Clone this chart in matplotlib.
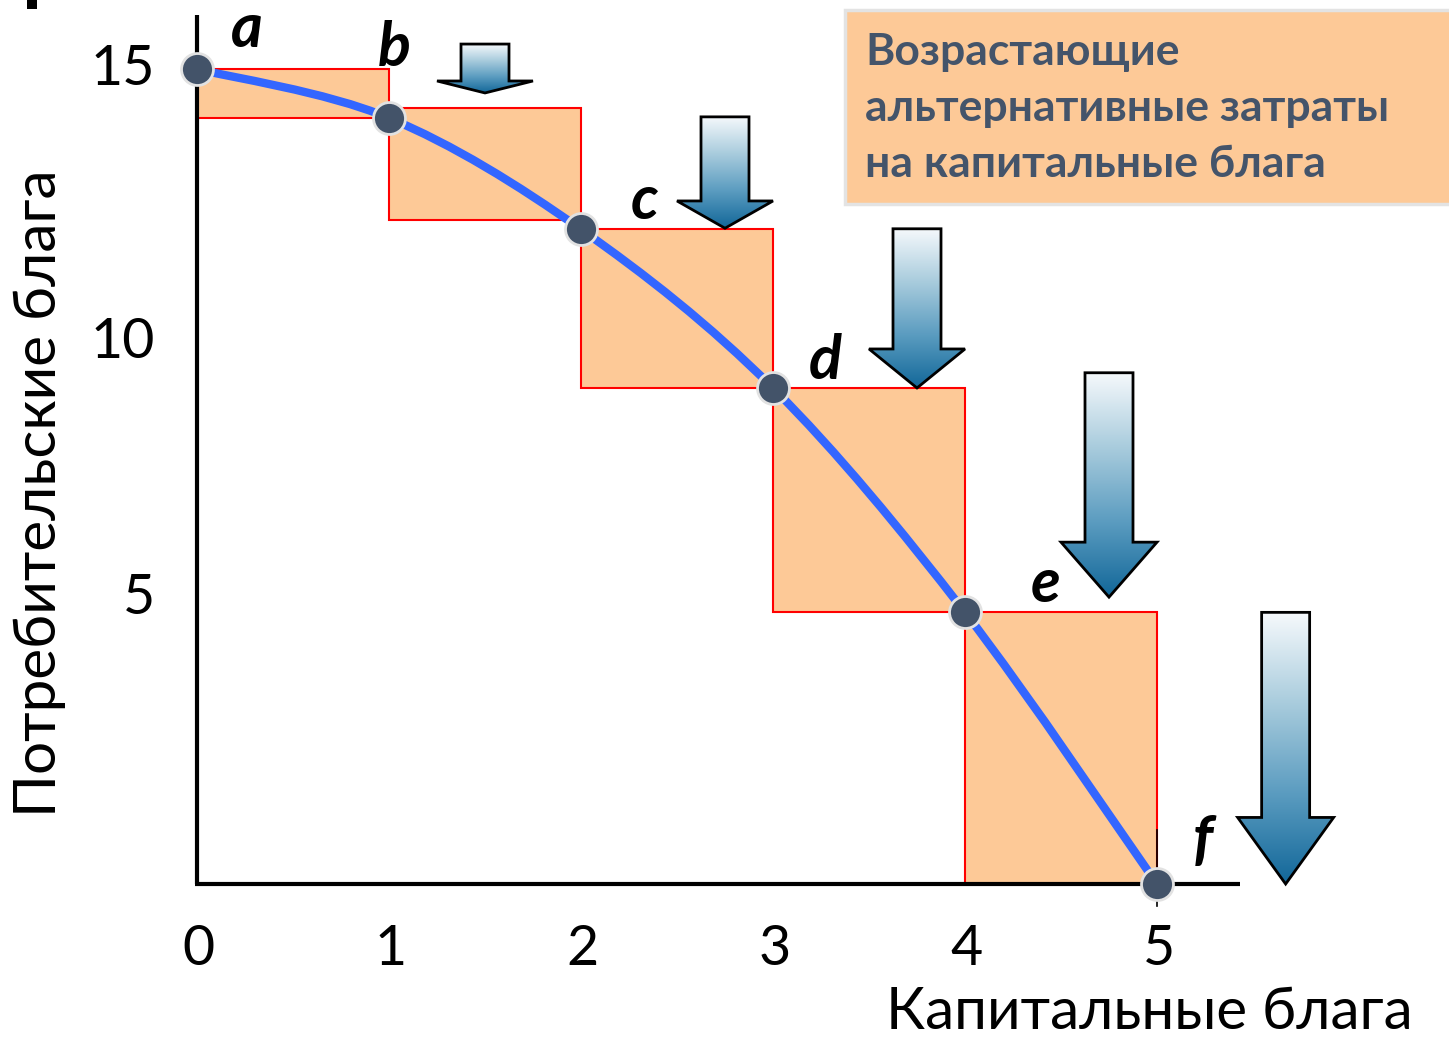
import matplotlib.pyplot as plt
import numpy as np
from matplotlib.patches import Rectangle, Polygon
from matplotlib.path import Path
from matplotlib.patches import PathPatch
from matplotlib.colors import LinearSegmentedColormap

plt.rcParams['font.family'] = ['Lato', 'DejaVu Sans']

# production possibilities: capital goods vs consumer goods
capital = [0, 1, 2, 3, 4, 5]
consumer = [15, 14.1, 12.05, 9.13, 5.0, 0]
point_names = ['a', 'b', 'c', 'd', 'e', 'f']

# opportunity cost boxes
box_left = [0, 1, 2, 3, 4]
box_top = [15, 14.28, 12.06, 9.13, 5.0]
box_bottom = [14.1, 12.22, 9.13, 5.0, 0]

# arrows showing growing cost
arrow_x = [1.5, 2.75, 3.75, 4.75, 5.67]
arrow_top = [15.46, 14.12, 12.06, 9.41, 5.0]
arrow_tip = [14.56, 12.07, 9.13, 5.28, 0.0]

x_ticks = [0, 1, 2, 3, 4, 5]
y_ticks = [5, 10, 15]
y_tick_pos = [5.26, 9.96, 15.0]

fig = plt.figure(figsize=(14.49, 10.38), dpi=100)
ax = fig.add_axes([0, 0, 1, 1])
ax.set_xlim(-197 / 192, (1449 - 197) / 192)
ax.set_ylim(-154 / 54.33, 884 / 54.33)
ax.axis('off')

fill = '#FDC997'
for l, t, b in zip(box_left, box_top, box_bottom):
    ax.add_patch(Rectangle((l, b), 1, t - b, facecolor=fill, edgecolor='#FF0000', lw=1.5, zorder=2))

# axes lines
ax.plot([0, 0], [0, 16.0], color='black', lw=3, zorder=3, solid_capstyle='butt')
ax.plot([-0.01, 5.43], [0, 0], color='black', lw=3, zorder=3, solid_capstyle='butt')
ax.plot([5, 5], [-0.4, 1.0], color='black', lw=1.2, zorder=3)

# smooth curve through the points (catmull-rom -> bezier)
pts = np.column_stack([capital, consumer]).astype(float)
verts = [pts[0]]
codes = [Path.MOVETO]
n = len(pts)
for i in range(n - 1):
    p0 = pts[i - 1] if i > 0 else pts[i]
    p1 = pts[i]
    p2 = pts[i + 1]
    p3 = pts[i + 2] if i + 2 < n else pts[i + 1]
    c1 = p1 + (p2 - p0) / 6
    c2 = p2 - (p3 - p1) / 6
    verts += [c1, c2, p2]
    codes += [Path.CURVE4] * 3
ax.add_patch(PathPatch(Path(verts, codes), facecolor='none', edgecolor='#3366FF', lw=6, zorder=4))

ax.plot(capital, consumer, 'o', ms=23, color='#435369', mec='#E2E2E2', mew=2, zorder=5, clip_on=False)

label_off = [(0.26, 0.74), (0.03, 1.29), (0.33, 0.52), (0.27, 0.5), (0.42, 0.52), (0.24, 0.8)]
for x, y, s, (dx, dy) in zip(capital, consumer, point_names, label_off):
    ax.text(x + dx, y + dy, s, fontsize=44, fontweight='bold', fontstyle='italic',
            ha='center', va='center', zorder=6)

# gradient arrows
cmap = LinearSegmentedColormap.from_list('arr', ['#F6F9FC', '#A9CCDD', '#5B9CC0', '#126799'])
grad = np.linspace(0, 1, 256).reshape(-1, 1)
sw, hw = 0.125, 0.25
for cx, top, tip in zip(arrow_x, arrow_top, arrow_tip):
    hh = 0.245 * (top - tip)
    poly = [(cx - sw, top), (cx + sw, top), (cx + sw, tip + hh), (cx + hw, tip + hh),
            (cx, tip), (cx - hw, tip + hh), (cx - sw, tip + hh)]
    p = Polygon(poly, closed=True, facecolor='none', edgecolor='black', lw=2, zorder=8,
                joinstyle='miter')
    ax.add_patch(p)
    im = ax.imshow(grad, cmap=cmap, aspect='auto', extent=(cx - hw, cx + hw, tip, top),
                   origin='upper', zorder=7)
    im.set_clip_path(p)

# ticks
for v in x_ticks:
    ax.text(v + 0.01, -1.2, str(v), fontsize=40, ha='center', va='center')
for v, pos in zip(y_ticks, y_tick_pos):
    ax.text(-0.22, pos, str(v), fontsize=40, ha='right', va='center')

ax.text(4.96, -2.37, 'Капитальные блага', fontsize=42, ha='center', va='center')
ax.text(-0.82, 7.2, 'Потребительские блага', fontsize=42, ha='center', va='center', rotation=90)

# note box
ax.add_patch(Rectangle((3.375, 12.52), 3.3, 3.57, facecolor=fill, edgecolor='#E3E3E3', lw=2.5, zorder=2))
ax.text(3.48, 14.28, 'Возрастающие\nальтернативные затраты\nна капитальные блага',
        fontsize=32, fontweight='bold', color='#44546A', ha='left', va='center',
        linespacing=1.49, zorder=3)

# stray mark top-left
ax.add_patch(Rectangle((-1.026 + 27 / 192, (884 - 9) / 54.33), 10 / 192, 10 / 54.33,
                       facecolor='black', edgecolor='none', clip_on=False))

fig.savefig('out.png', dpi=100)
